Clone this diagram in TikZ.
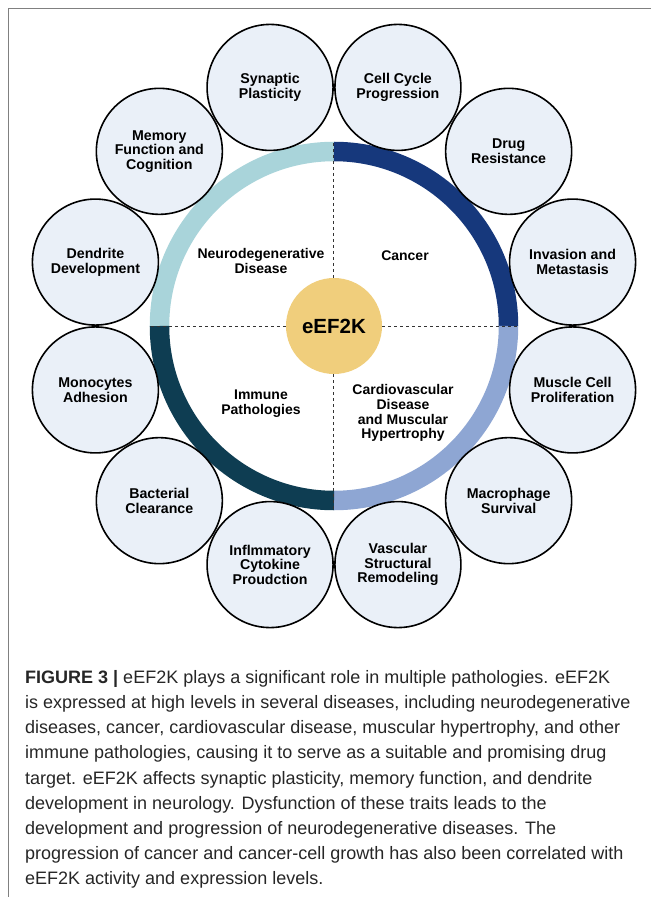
\documentclass[tikz,border=0pt]{standalone}
\usepackage{fontspec}
\setmainfont{Liberation Sans}
\usepackage{tikz}

\definecolor{neuro}{HTML}{A9D4DA}
\definecolor{cancer}{HTML}{16387C}
\definecolor{immune}{HTML}{0E3D52}
\definecolor{cardio}{HTML}{8EA6D3}
\definecolor{kinase}{HTML}{F0CE7C}
\definecolor{bubble}{HTML}{EAF0F8}

\begin{document}
\begin{tikzpicture}[x=1pt,y=1pt,
    topic/.style={circle,draw=black,line width=1.6pt,fill=bubble,minimum size=126pt,
                  inner sep=0pt,align=center,font=\fontsize{14.2}{14.6}\selectfont\bfseries},
    quad/.style={align=center,font=\fontsize{14}{14.8}\selectfont\bfseries},
    hub/.style={circle,fill=kinase,minimum size=96pt,inner sep=0pt,
                font=\fontsize{20.5}{24}\selectfont\bfseries},
    band/.style={line width=19.5pt},
    divide/.style={line width=1pt,black!80,dash pattern=on 3pt off 3pt}]
      \useasboundingbox (-334,-571) rectangle (317,326);

      % frame
      \draw[gray,line width=1pt] (317,317.5) -- (-325,317.5) -- (-325,-571);

      % ring
      \draw[band,neuro]  (180:174.5) arc[start angle=180,end angle=90,radius=174.5];
      \draw[band,cancer] (90:174.5)  arc[start angle=90,end angle=0,radius=174.5];
      \draw[band,cardio] (0:174.5)   arc[start angle=0,end angle=-90,radius=174.5];
      \draw[band,immune] (-90:174.5) arc[start angle=-90,end angle=-180,radius=174.5];

      \node[hub] (core) at (0,0) {eEF2K};

      \coordinate (N) at (0,183);
      \coordinate (S) at (0,-183);
      \coordinate (W) at (-183,0);
      \coordinate (E) at (183,0);
      \draw[divide] (N) -- (core);
      \draw[divide] (core) -- (S);
      \draw[divide] (W) -- (core);
      \draw[divide] (core) -- (E);

      \node[quad] (nd) at (-73,65)  {Neurodegenerative\\Disease};
      \node[quad] (ca) at (71,70)   {Cancer};
      \node[quad] (im) at (-73,-78) {Immune\\Pathologies};
      \node[quad] (cv) at (69,-87)  {Cardiovascular\\Disease\\and Muscular\\Hypertrophy};

      % outer circles
      \node[topic] (syn)  at (105:247)  {Synaptic\\Plasticity};
      \node[topic] (ccp)  at (75:247)   {Cell Cycle\\Progression};
      \node[topic] (drug) at (45:247)   {Drug\\Resistance};
      \node[topic] (inv)  at (15:247)   {Invasion and\\Metastasis};
      \node[topic] (mus)  at (-15:247)  {Muscle Cell\\Proliferation};
      \node[topic] (mac)  at (-45:247)  {Macrophage\\Survival};
      \node[topic] (vas)  at (-75:247)  {Vascular\\Structural\\Remodeling};
      \node[topic] (inf)  at (-105:247) {Inflmmatory\\Cytokine\\Proudction};
      \node[topic] (bac)  at (-135:247) {Bacterial\\Clearance};
      \node[topic] (mono) at (-165:247) {Monocytes\\Adhesion};
      \node[topic] (den)  at (165:247)  {Dendrite\\Development};
      \node[topic] (mem)  at (135:247)  {Memory\\Function and\\Cognition};

      % caption
      \node[anchor=north west,inner sep=0pt,align=left,text=black!85,
            font=\fontsize{18}{25.2}\selectfont] (cap) at (-309,-344)
        {\textbf{FIGURE 3 |} eEF2K plays a significant role in multiple pathologies. eEF2K\\
         is expressed at high levels in several diseases, including neurodegenerative\\
         diseases, cancer, cardiovascular disease, muscular hypertrophy, and other\\
         immune pathologies, causing it to serve as a suitable and promising drug\\
         target. eEF2K affects synaptic plasticity, memory function, and dendrite\\
         development in neurology. Dysfunction of these traits leads to the\\
         development and progression of neurodegenerative diseases. The\\
         progression of cancer and cancer-cell growth has also been correlated with\\
         eEF2K activity and expression levels.};
    \end{tikzpicture}
\end{document}
